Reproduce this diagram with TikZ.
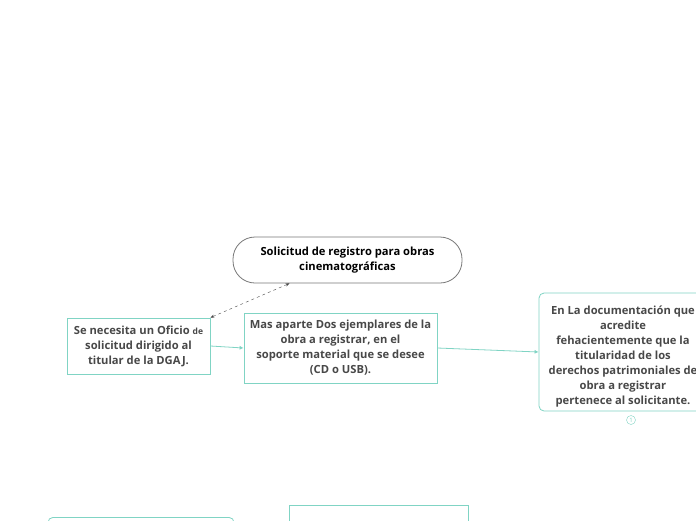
\documentclass[tikz,border=0pt]{standalone}
\usepackage{fontspec}
\setmainfont{Open Sans}
\usetikzlibrary{arrows.meta}
\definecolor{tealline}{RGB}{128,212,196}
\definecolor{textgray}{RGB}{72,72,72}
\definecolor{framegray}{RGB}{120,120,120}
\tikzset{
  mainbox/.style={draw=framegray, thick, rounded corners=22pt, minimum width=229pt, minimum height=46pt,
    align=center, font=\bfseries\fontsize{11.2}{15}\selectfont, text=black},
  itembox/.style={draw=tealline, thick, align=center, text=textgray,
    font=\bfseries\fontsize{11.2}{15}\selectfont},
  link/.style={tealline, thick, -{Latex[length=4pt,width=4pt]}},
  dashlink/.style={framegray!60!black, dashed, {Stealth[length=4pt]}-{Stealth[length=4pt]}}
}
\begin{document}
\begin{tikzpicture}[x=1pt, y=-1pt]
    % 1. fondo y recorte del lienzo
    \useasboundingbox[fill=white] (0,0) rectangle (696,520);
    \clip (0,0) rectangle (696,520);

    % 2. nodo central
    \node[mainbox] (solicitud) at (347.5,260) {Solicitud de registro para obras\\cinematográficas};

    % 3. requisitos
    \node[itembox, minimum width=143pt, minimum height=56pt] (oficio) at (138.5,346)
        {Se necesita un Oficio {\fontsize{8.5}{15}\selectfont de}\\solicitud dirigido al\\titular de la DGAJ.};
    \node[itembox, minimum width=193pt, minimum height=70pt, text depth=2pt] (ejemplares) at (340.5,348)
        {Mas aparte Dos ejemplares de la\\obra a registrar, en el\\soporte material que se desee\\(CD o USB).};
    \node[itembox, rounded corners=5pt, minimum width=192pt, minimum height=118pt] (docbox) at (635,352) {};
    \node[text=textgray, align=center, font=\bfseries\fontsize{11.2}{15}\selectfont] (doc) at (623,357)
        {En La documentación que\\acredite\\fehacientemente que la\\titularidad de los\\derechos patrimoniales de\\obra a registrar\\pertenece al solicitante.};
    \node[circle, draw=tealline, inner sep=0pt, minimum size=9pt, text=tealline, font=\fontsize{6}{6}\selectfont] (contador) at (631,420) {1};

    % 4. cajas inferiores (cortadas por el borde)
    \node[itembox, rounded corners=5pt, minimum width=186pt, minimum height=60pt, anchor=north] (abajoizq) at (141,517) {};
    \node[itembox, minimum width=179pt, minimum height=60pt, anchor=north] (abajoder) at (378.5,505) {};

    % 5. conectores
    \draw[dashlink] ([xshift=-58pt]solicitud.south) -- (oficio.north east);
    \draw[link] (oficio.east) -- (ejemplares.west);
    \draw[link] (ejemplares.east) -- (docbox.west);
\end{tikzpicture}
\end{document}
